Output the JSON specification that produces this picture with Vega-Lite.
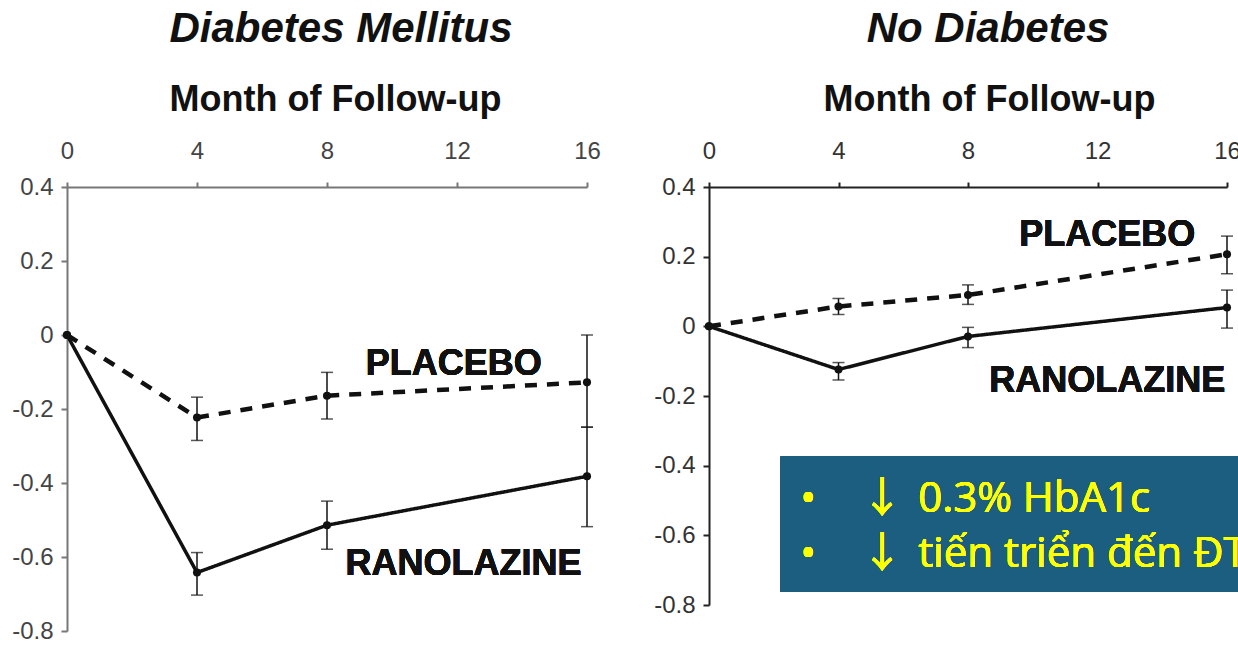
{
  "$schema": "https://vega.github.io/schema/vega-lite/v6.json",
  "background": "white",
  "padding": {"left": 11, "top": 8, "right": 0, "bottom": 0},
  "spacing": 52,
  "config": {
    "view": {"stroke": null},
    "font": "Liberation Sans"
  },
  "datasets": {
    "hba1c": [
      {"panel": "DM", "group": "PLACEBO", "month": 0, "value": 0, "lo": 0, "hi": 0},
      {"panel": "DM", "group": "PLACEBO", "month": 4, "value": -0.223, "lo": -0.285, "hi": -0.168},
      {"panel": "DM", "group": "PLACEBO", "month": 8, "value": -0.164, "lo": -0.227, "hi": -0.101},
      {"panel": "DM", "group": "PLACEBO", "month": 16, "value": -0.128, "lo": -0.249, "hi": 0.0},
      {"panel": "DM", "group": "RANOLAZINE", "month": 0, "value": 0, "lo": 0, "hi": 0},
      {"panel": "DM", "group": "RANOLAZINE", "month": 4, "value": -0.642, "lo": -0.703, "hi": -0.588},
      {"panel": "DM", "group": "RANOLAZINE", "month": 8, "value": -0.514, "lo": -0.579, "hi": -0.449},
      {"panel": "DM", "group": "RANOLAZINE", "month": 16, "value": -0.382, "lo": -0.518, "hi": -0.249},
      {"panel": "ND", "group": "PLACEBO", "month": 0, "value": 0, "lo": 0, "hi": 0},
      {"panel": "ND", "group": "PLACEBO", "month": 4, "value": 0.057, "lo": 0.034, "hi": 0.08},
      {"panel": "ND", "group": "PLACEBO", "month": 8, "value": 0.09, "lo": 0.063, "hi": 0.119},
      {"panel": "ND", "group": "PLACEBO", "month": 16, "value": 0.207, "lo": 0.151, "hi": 0.259},
      {"panel": "ND", "group": "RANOLAZINE", "month": 0, "value": 0, "lo": 0, "hi": 0},
      {"panel": "ND", "group": "RANOLAZINE", "month": 4, "value": -0.124, "lo": -0.154, "hi": -0.104},
      {"panel": "ND", "group": "RANOLAZINE", "month": 8, "value": -0.029, "lo": -0.061, "hi": -0.003},
      {"panel": "ND", "group": "RANOLAZINE", "month": 16, "value": 0.054, "lo": -0.005, "hi": 0.104}
    ]
  },
  "hconcat": [
    {
      "width": 520,
      "height": 444,
      "data": {"name": "hba1c"},
      "transform": [{"filter": "datum.panel === 'DM'"}],
      "title": {"text": "Diabetes Mellitus", "font": "Liberation Sans", "fontSize": 42, "fontStyle": "italic", "fontWeight": "bold", "color": "#111", "dx": 14, "offset": 30},
      "encoding": {
        "x": {"field": "month", "type": "quantitative", "scale": {"domain": [0, 16], "nice": false},
          "axis": {"orient": "top", "values": [0, 4, 8, 12, 16], "title": "Month of Follow-up", "titleFontSize": 36, "titleFontWeight": "bold", "titleColor": "#111", "titleX": 268, "titlePadding": 21, "labelFontSize": 24, "labelColor": "#444", "labelPadding": 19, "tickSize": 5, "domainColor": "#777", "tickColor": "#777", "domainWidth": 2, "tickWidth": 2, "grid": false, "labelFlush": false}},
        "y": {"field": "value", "type": "quantitative", "scale": {"domain": [-0.8, 0.4], "nice": false, "zero": false},
          "axis": {"values": [-0.8, -0.6, -0.4, -0.2, 0, 0.2, 0.4], "title": null, "labelExpr": "datum.value == 0 ? '0' : replace(format(datum.value, '.1f'), '\u2212', '-')", "labelFontSize": 24, "labelColor": "#444", "labelPadding": 8, "tickSize": 6, "domainColor": "#777", "tickColor": "#777", "domainWidth": 2, "tickWidth": 2, "grid": false, "labelFlush": false}}
      },
      "layer": [
        {
          "mark": {"type": "line", "color": "#111"},
          "encoding": {
            "detail": {"field": "group"},
            "strokeDash": {"field": "group", "type": "nominal", "scale": {"domain": ["PLACEBO", "RANOLAZINE"], "range": [[12, 10], [1, 0]]}, "legend": null},
            "strokeWidth": {"field": "group", "type": "nominal", "scale": {"domain": ["PLACEBO", "RANOLAZINE"], "range": [4.5, 3.5]}, "legend": null}
          }
        },
        {
          "transform": [{"filter": "datum.month > 0"}],
          "mark": {"type": "errorbar", "ticks": {"size": 12, "thickness": 1.5, "color": "#111"}, "rule": {"strokeWidth": 1.5, "color": "#111"}},
          "encoding": {"y": {"field": "lo", "type": "quantitative"}, "y2": {"field": "hi"}, "detail": {"field": "group"}}
        },
        {
          "mark": {"type": "point", "filled": true, "color": "#111", "size": 65, "opacity": 1}
        },
        {
          "mark": {"type": "text", "text": "PLACEBO", "fontSize": 36, "fontWeight": "bold", "color": "#111", "align": "center", "baseline": "middle"},
          "encoding": {"x": {"datum": 11.9}, "y": {"datum": -0.079}}
        },
        {
          "mark": {"type": "text", "text": "RANOLAZINE", "fontSize": 36, "fontWeight": "bold", "color": "#111", "align": "center", "baseline": "middle"},
          "encoding": {"x": {"datum": 12.2}, "y": {"datum": -0.62}}
        }
      ]
    },
    {
      "width": 518,
      "height": 418,
      "data": {"name": "hba1c"},
      "transform": [{"filter": "datum.panel === 'ND'"}],
      "title": {"text": "No Diabetes", "font": "Liberation Sans", "fontSize": 42, "fontStyle": "italic", "fontWeight": "bold", "color": "#111", "dx": 20, "offset": 30},
      "encoding": {
        "x": {"field": "month", "type": "quantitative", "scale": {"domain": [0, 16], "nice": false},
          "axis": {"orient": "top", "values": [0, 4, 8, 12, 16], "title": "Month of Follow-up", "titleFontSize": 36, "titleFontWeight": "bold", "titleColor": "#111", "titleX": 280, "titlePadding": 21, "labelFontSize": 24, "labelColor": "#333", "labelPadding": 19, "tickSize": 5, "domainColor": "#222", "tickColor": "#222", "domainWidth": 2, "tickWidth": 2, "grid": false, "labelFlush": false}},
        "y": {"field": "value", "type": "quantitative", "scale": {"domain": [-0.8, 0.4], "nice": false, "zero": false},
          "axis": {"values": [-0.8, -0.6, -0.4, -0.2, 0, 0.2, 0.4], "title": null, "labelExpr": "datum.value == 0 ? '0' : replace(format(datum.value, '.1f'), '\u2212', '-')", "labelFontSize": 24, "labelColor": "#333", "labelPadding": 8, "tickSize": 6, "domainColor": "#222", "tickColor": "#222", "domainWidth": 2, "tickWidth": 2, "grid": false, "labelFlush": false}}
      },
      "layer": [
        {
          "mark": {"type": "line", "color": "#111"},
          "encoding": {
            "detail": {"field": "group"},
            "strokeDash": {"field": "group", "type": "nominal", "scale": {"domain": ["PLACEBO", "RANOLAZINE"], "range": [[12, 10], [1, 0]]}, "legend": null},
            "strokeWidth": {"field": "group", "type": "nominal", "scale": {"domain": ["PLACEBO", "RANOLAZINE"], "range": [4.5, 3.5]}, "legend": null}
          }
        },
        {
          "transform": [{"filter": "datum.month > 0"}],
          "mark": {"type": "errorbar", "ticks": {"size": 12, "thickness": 1.5, "color": "#111"}, "rule": {"strokeWidth": 1.5, "color": "#111"}},
          "encoding": {"y": {"field": "lo", "type": "quantitative"}, "y2": {"field": "hi"}, "detail": {"field": "group"}}
        },
        {
          "mark": {"type": "point", "filled": true, "color": "#111", "size": 65, "opacity": 1}
        },
        {
          "mark": {"type": "text", "text": "PLACEBO", "fontSize": 36, "fontWeight": "bold", "color": "#111", "align": "center", "baseline": "middle"},
          "encoding": {"x": {"datum": 12.3}, "y": {"datum": 0.263}}
        },
        {
          "mark": {"type": "text", "text": "RANOLAZINE", "fontSize": 36, "fontWeight": "bold", "color": "#111", "align": "center", "baseline": "middle"},
          "encoding": {"x": {"datum": 12.3}, "y": {"datum": -0.156}}
        },
        {
          "mark": {"type": "rect", "color": "#1B5E7F", "opacity": 1},
          "encoding": {"x": {"datum": 2.21}, "x2": {"datum": 16.37}, "y": {"datum": -0.374}, "y2": {"datum": -0.762}}
        },
        {
          "mark": {"type": "text", "text": "•", "font": "Open Sans", "fontSize": 42, "color": "#FFFF00", "align": "center", "baseline": "middle"},
          "encoding": {"x": {"datum": 3.06}, "y": {"datum": -0.495}}
        },
        {
          "mark": {"type": "text", "text": "•", "font": "Open Sans", "fontSize": 42, "color": "#FFFF00", "align": "center", "baseline": "middle"},
          "encoding": {"x": {"datum": 3.06}, "y": {"datum": -0.653}}
        },
        {
          "mark": {"type": "text", "text": "↓", "font": "Noto Sans CJK SC", "fontSize": 42, "color": "#FFFF00", "align": "center", "baseline": "middle"},
          "encoding": {"x": {"datum": 5.34}, "y": {"datum": -0.495}}
        },
        {
          "mark": {"type": "text", "text": "↓", "font": "Noto Sans CJK SC", "fontSize": 42, "color": "#FFFF00", "align": "center", "baseline": "middle"},
          "encoding": {"x": {"datum": 5.34}, "y": {"datum": -0.653}}
        },
        {
          "mark": {"type": "text", "text": "0.3% HbA1c", "font": "Open Sans", "fontSize": 42, "color": "#FFFF00", "align": "left", "baseline": "middle"},
          "encoding": {"x": {"datum": 6.46}, "y": {"datum": -0.495}}
        },
        {
          "mark": {"type": "text", "text": "tiến triển đến ĐT", "font": "Open Sans", "fontSize": 42, "color": "#FFFF00", "align": "left", "baseline": "middle"},
          "encoding": {"x": {"datum": 6.46}, "y": {"datum": -0.653}}
        }
      ]
    }
  ]
}
